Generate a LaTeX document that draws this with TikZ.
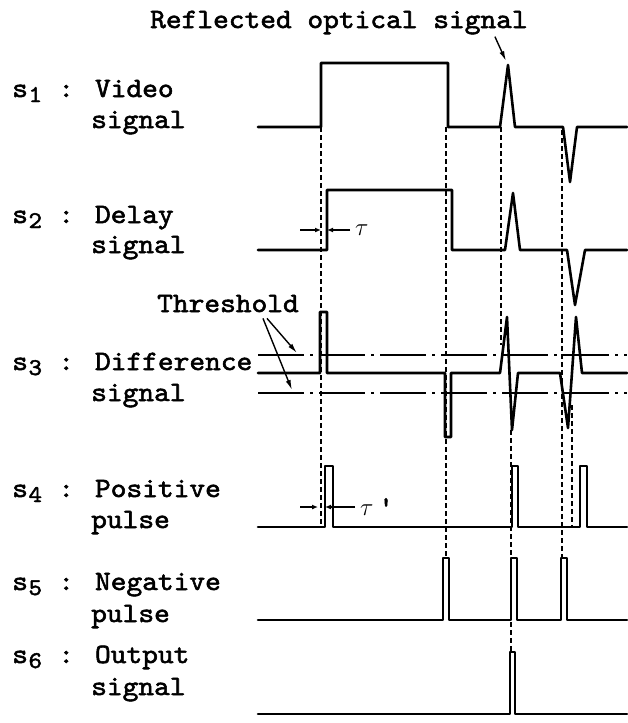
\documentclass[tikz,border=0pt]{standalone}
\usepackage{fontspec}
\newfontfamily\labelfont{lmmono10-regular}[Extension=.otf,FakeBold=2,FakeStretch=1.07]
\usetikzlibrary{calc,arrows.meta}
\newcommand\subd[1]{\makebox[0.525em]{\raisebox{-5pt}{\fontsize{24}{24}\selectfont#1}}}
\tikzset{%
  sig/.style={line width=2.6pt,line join=round,line cap=round},
  guide/.style={line width=2.2pt,dash pattern=on 5pt off 3pt},
  thres/.style={line width=1.7pt,dash pattern=on 46pt off 6pt on 3pt off 6pt},
  lbl/.style={inner sep=0,anchor=base west,font=\labelfont\fontsize{28}{31}\selectfont},
  pointer/.style={line width=1.4pt,-{Latex[length=10pt,width=5pt]}},
  dimarr/.style={line width=1.4pt,-{Latex[length=6pt,width=5pt]}}
}

\begin{document}
\begin{tikzpicture}[x=1pt,y=-1pt]
    \useasboundingbox (0,0) rectangle (627,723);
    % row labels
    \foreach \i/\ya/\yb/\wa/\wb in {1/97/128/Video/signal,2/223/253/Delay/signal,
        3/370/401/Difference/signal,4/497/528/Positive/pulse,
        5/590/622/Negative/pulse,6/663/695/Output/signal}{
      \node[lbl] (l\i) at (12,\ya) {s\subd{\i} : \wa};
      \node[lbl] (n\i) at (91,\yb) {\wb};
    }
    \node[lbl] (refl) at (150,28) {Reflected optical signal};
    \node[lbl] (thr) at (157,312) {Threshold};
    % timing guides
    \draw[guide] (321,127) -- (321,527);
    \draw[guide] (446,127) -- (446,558);
    \draw[guide] (501,127) -- (501,345);
    \draw[guide] (511,430) -- (511,652);
    \draw[guide] (562,130) -- (562,558);
    \draw[guide] (572,405) -- (572,527);
    % threshold levels
    \draw[thres] (258,355) -- (627,355);
    \draw[thres] (258,393) -- (627,393);
    % s1 .. s6
    \draw[sig] (258,127) -- (321,127) -- (321,63) -- (448,63) -- (448,127) -- (500,127)
      -- (508,65) -- (515,127) -- (563,127) -- (570,182) -- (577,127) -- (627,127);
    \draw[sig] (258,250) -- (327,250) -- (327,190) -- (452,190) -- (452,250) -- (505,250)
      -- (513,193) -- (520,250) -- (567,250) -- (575,305) -- (585,250) -- (627,250);
    \draw[sig] (258,373) -- (320,373) -- (320,312) -- (327,312) -- (327,373) -- (445,373)
      -- (445,437) -- (451,437) -- (451,373) -- (500,373) -- (507,317) -- (512,430)
      -- (518,373) -- (560,373) -- (568,428) -- (576,317) -- (582,373) -- (627,373);
    \draw[sig] (258,527) -- (325,527) -- (325,466) -- (333,466) -- (333,527) -- (512,527)
      -- (512,466) -- (518,466) -- (518,527) -- (580,527) -- (580,466) -- (587,466)
      -- (587,527) -- (627,527);
    \draw[sig] (258,620) -- (443,620) -- (443,558) -- (449,558) -- (449,620) -- (511,620)
      -- (511,558) -- (517,558) -- (517,620) -- (561,620) -- (561,558) -- (567,558)
      -- (567,620) -- (627,620);
    \draw[sig] (258,714) -- (510,714) -- (510,652) -- (515,652) -- (515,714) -- (627,714);
    % pointers
    \coordinate (pk) at (506,61);
    \coordinate (tu) at (297,353);
    \coordinate (tl) at (292,390);
    \draw[pointer] ($(refl.south east)+(-33,2)$) -- (pk);
    \draw[pointer] ($(thr.south east)+(-32,6)$) -- (tu);
    \draw[pointer] ($(thr.south east)+(-36,6)$) -- (tl);
    % delays
    \coordinate (d1) at (321,230);
    \coordinate (d2) at (327,230);
    \node[lbl,anchor=west,inner xsep=5pt] (tau) at (350,230) {$\tau$};
    \draw[dimarr] ($(d1)+(-21,0)$) -- (d1);
    \draw[dimarr] (tau.west) -- (d2);
    \coordinate (e1) at (318,507);
    \coordinate (e2) at (325,507);
    \node[lbl,anchor=west,inner xsep=5pt] (taup) at (355,507) {$\tau$\,'};
    \draw[dimarr] ($(e1)+(-18,0)$) -- (e1);
    \draw[dimarr] (taup.west) -- (e2);
\end{tikzpicture}
\end{document}
